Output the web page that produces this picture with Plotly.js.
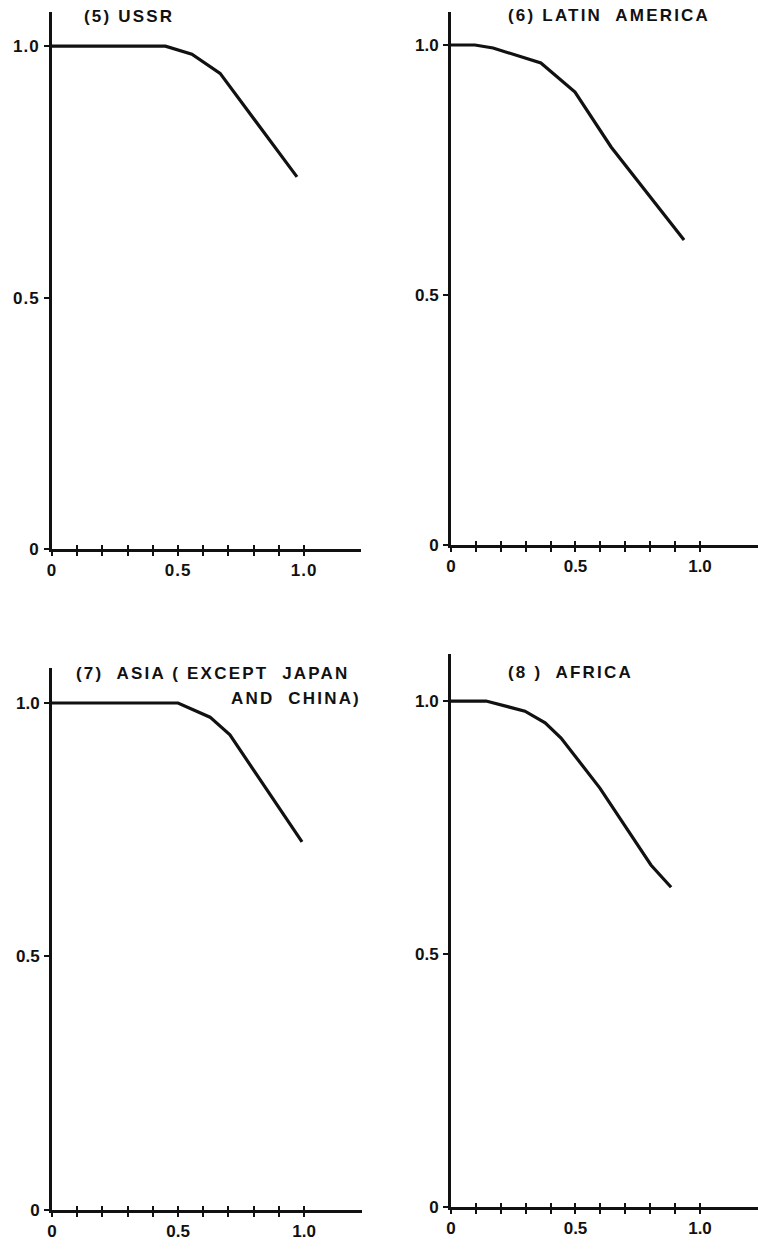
<!DOCTYPE html>
<html>
<head>
<meta charset="utf-8">
<script src="https://cdn.plot.ly/plotly-3.0.1.min.js"></script>
<style>
  html, body { margin: 0; padding: 0; background: #fff; }
  #chart { width: 758px; height: 1250px; }
  .annotation-text { letter-spacing: 2.2px; }
  .xtick text, .ytick text { letter-spacing: 1px; }
</style>
</head>
<body>
<div id="chart"></div>
<script>
// ---- data ----
const panelTitles = ["(5) USSR", "(6) LATIN  AMERICA", "(7)  ASIA ( EXCEPT  JAPAN", "AND  CHINA)", "(8 )  AFRICA"];

const ussrX = [0, 0.45, 0.555, 0.667, 0.972];
const ussrY = [1.0, 1.0, 0.984, 0.946, 0.740];

const latinX = [0, 0.096, 0.169, 0.361, 0.498, 0.643, 0.936];
const latinY = [1.0, 1.0, 0.994, 0.964, 0.906, 0.796, 0.610];

const asiaX = [0, 0.50, 0.627, 0.706, 0.992];
const asiaY = [1.0, 1.0, 0.972, 0.937, 0.726];

const africaX = [0, 0.141, 0.297, 0.378, 0.442, 0.598, 0.803, 0.884];
const africaY = [1.0, 1.0, 0.980, 0.957, 0.927, 0.828, 0.676, 0.632];

const xTickVals = [0, 0.1, 0.2, 0.3, 0.4, 0.5, 0.6, 0.7, 0.8, 0.9, 1.0];
const xTickText = ["0", "", "", "", "", "0.5", "", "", "", "", "1.0"];
const yTickVals = [0, 0.5, 1.0];
const yTickText = ["0", "0.5", "1.0"];

// ---- layout helpers ----
const W = 758, H = 1250;
const px = v => v / W;
const py = v => (H - v) / H;
const INK = '#111';
const tickFont = {family: 'Liberation Sans, Arial, sans-serif', size: 17, color: INK, weight: 'bold'};
const titleFont = {family: 'Liberation Sans, Arial, sans-serif', size: 17, color: INK, weight: 'bold'};

function xAxis(domain, range, anchor) {
  return {
    domain: domain, range: range, anchor: anchor,
    showline: true, linewidth: 3, linecolor: INK,
    ticks: 'outside', ticklen: 4, tickwidth: 2, tickcolor: INK,
    tickmode: 'array', tickvals: xTickVals, ticktext: xTickText,
    ticklabelstandoff: 0,
    showgrid: false, zeroline: false, tickfont: tickFont, fixedrange: true
  };
}
function xOverlay(over, range, anchor) {
  return {
    overlaying: over, range: range, anchor: anchor,
    showline: false, ticks: 'inside', ticklen: 4, tickwidth: 2, tickcolor: INK,
    tickmode: 'array', tickvals: xTickVals, showticklabels: false,
    showgrid: false, zeroline: false, fixedrange: true
  };
}
function yAxis(domain, range, anchor) {
  return {
    domain: domain, range: range, anchor: anchor,
    showline: true, linewidth: 3, linecolor: INK,
    ticks: 'outside', ticklen: 5, tickwidth: 2, tickcolor: INK,
    tickmode: 'array', tickvals: yTickVals, ticktext: yTickText,
    ticklabelstandoff: 1,
    showgrid: false, zeroline: false, tickfont: tickFont, fixedrange: true
  };
}

function curve(x, y, xa, ya) {
  return {x: x, y: y, xaxis: xa, yaxis: ya, type: 'scatter', mode: 'lines',
          line: {color: INK, width: 3.2, shape: 'linear'}, hoverinfo: 'skip'};
}
function empty(xa, ya) {
  return {x: [null], y: [null], xaxis: xa, yaxis: ya, type: 'scatter', mode: 'lines', hoverinfo: 'skip'};
}

const data = [
  curve(ussrX, ussrY, 'x', 'y'),
  curve(latinX, latinY, 'x2', 'y2'),
  curve(asiaX, asiaY, 'x3', 'y3'),
  curve(africaX, africaY, 'x4', 'y4'),
  empty('x5', 'y'), empty('x6', 'y2'), empty('x7', 'y3'), empty('x8', 'y4')
];

const r1x = [0, 1.226], r2x = [0, 1.233], r3x = [0, 1.23], r4x = [0, 1.233];

function ann(i, x, y, anchor) {
  return {text: panelTitles[i], xref: 'paper', yref: 'paper', x: px(x), y: py(y),
          xanchor: anchor, yanchor: 'middle', showarrow: false, font: titleFont};
}

const layout = {
  width: W, height: H,
  margin: {l: 0, r: 0, t: 0, b: 0},
  paper_bgcolor: '#fff', plot_bgcolor: '#fff',
  showlegend: false,
  font: {family: 'Liberation Sans, Arial, sans-serif', color: INK},
  xaxis:  xAxis([px(52), px(361)], r1x, 'y'),
  yaxis:  yAxis([py(549), py(12)], [0, 1.068], 'x'),
  xaxis2: xAxis([px(451), 1], r2x, 'y2'),
  yaxis2: yAxis([py(545), py(12)], [0, 1.066], 'x2'),
  xaxis3: xAxis([px(52), px(362)], r3x, 'y3'),
  yaxis3: yAxis([py(1210), py(668)], [0, 1.069], 'x3'),
  xaxis4: xAxis([px(451), 1], r4x, 'y4'),
  yaxis4: yAxis([py(1207), py(654)], [0, 1.093], 'x4'),
  xaxis5: xOverlay('x', r1x, 'y'),
  xaxis6: xOverlay('x2', r2x, 'y2'),
  xaxis7: xOverlay('x3', r3x, 'y3'),
  xaxis8: xOverlay('x4', r4x, 'y4'),
  annotations: [
    ann(0, 82, 17, 'left'),
    ann(1, 609, 15, 'center'),
    ann(2, 74, 673, 'left'),
    ann(3, 363, 698, 'right'),
    ann(4, 506, 672, 'left')
  ]
};

Plotly.newPlot('chart', data, layout, {displayModeBar: false, staticPlot: true});
</script>
</body>
</html>
